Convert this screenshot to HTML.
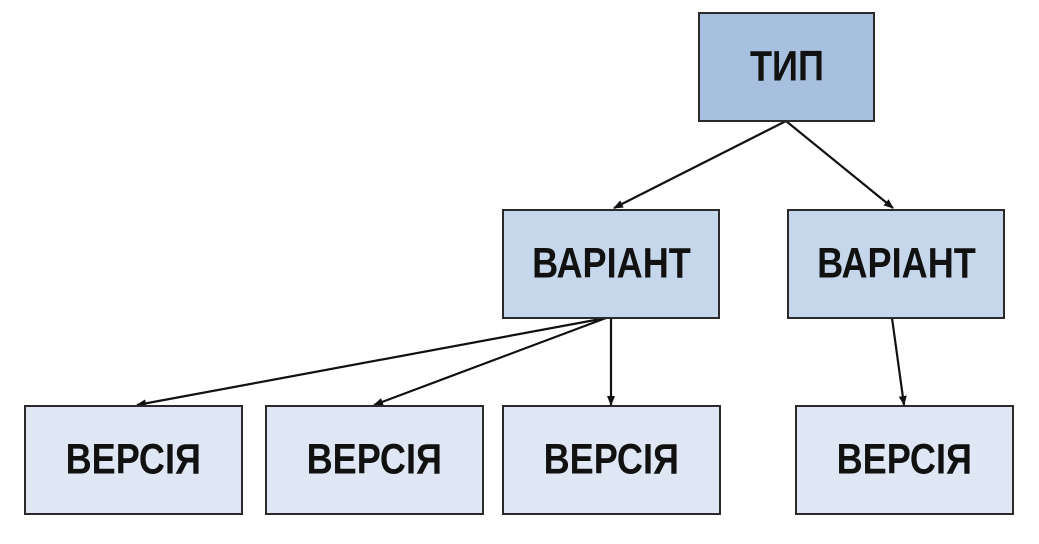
<!DOCTYPE html>
<html><head><meta charset="utf-8"><style>
body{margin:0;background:#fff;}
.b{position:absolute;border:2px solid #2a2a2a;box-sizing:border-box;display:flex;align-items:center;justify-content:center;font-family:"Liberation Sans",sans-serif;font-weight:bold;font-size:38px;color:#111;}
.b span{display:inline-block;transform:scale(0.95,1.12);}
.t{background:#a8c0e0}.v{background:#c6d7eb}.r{background:#dee7f3}
</style></head><body>
<div style="position:relative;width:1039px;height:544px;overflow:hidden">
<svg width="1039" height="544" style="position:absolute;left:0;top:0">
<defs><marker id="a" markerWidth="10" markerHeight="10" refX="9" refY="5" orient="auto" markerUnits="userSpaceOnUse"><path d="M0,1 L10,5 L0,9 z" fill="#111"/></marker></defs>
<g stroke="#111" stroke-width="2.2" marker-end="url(#a)">
<line x1="786" y1="121" x2="614" y2="208"/>
<line x1="786" y1="121" x2="893" y2="208"/>
<line x1="606" y1="318" x2="137" y2="405"/>
<line x1="606" y1="318" x2="374" y2="405"/>
<line x1="611" y1="318" x2="611" y2="405"/>
<line x1="892" y1="318" x2="904" y2="405"/>
</g></svg>
<div class="b t" style="left:698px;top:12px;width:177px;height:110px"><span>ТИП</span></div>
<div class="b v" style="left:502px;top:209px;width:218px;height:110px"><span>ВАРІАНТ</span></div>
<div class="b v" style="left:787px;top:209px;width:218px;height:110px"><span>ВАРІАНТ</span></div>
<div class="b r" style="left:24px;top:405px;width:219px;height:110px"><span>ВЕРСІЯ</span></div>
<div class="b r" style="left:265px;top:405px;width:219px;height:110px"><span>ВЕРСІЯ</span></div>
<div class="b r" style="left:502px;top:405px;width:219px;height:110px"><span>ВЕРСІЯ</span></div>
<div class="b r" style="left:795px;top:405px;width:219px;height:110px"><span>ВЕРСІЯ</span></div>
</div></body></html>
